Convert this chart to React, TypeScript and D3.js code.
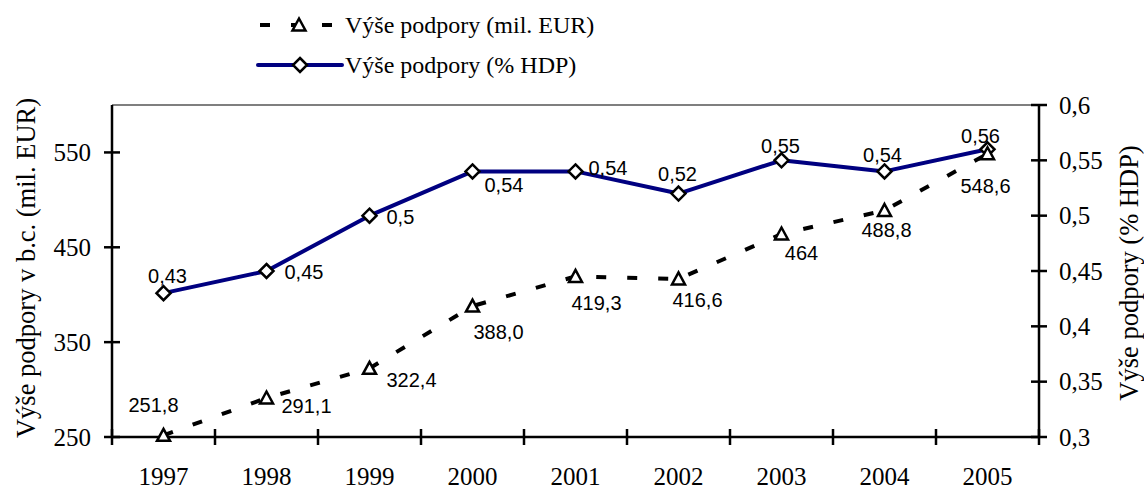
import React from 'react';
import * as d3 from 'd3';

const years = ['1997', '1998', '1999', '2000', '2001', '2002', '2003', '2004', '2005'];
const eurValues = [251.8, 291.1, 322.4, 388.0, 419.3, 416.6, 464, 488.8, 548.6];
const eurLabels = ['251,8', '291,1', '322,4', '388,0', '419,3', '416,6', '464', '488,8', '548,6'];
const hdpValues = [0.43, 0.45, 0.5, 0.54, 0.54, 0.52, 0.55, 0.54, 0.56];
const hdpLabels = ['0,43', '0,45', '0,5', '0,54', '0,54', '0,52', '0,55', '0,54', '0,56'];
const leftTicks = [250, 350, 450, 550];
const rightTicks = [0.3, 0.35, 0.4, 0.45, 0.5, 0.55, 0.6];

// label offsets (dx, dy, anchor) relative to each point, like Excel's hand-placed labels
const eurLabelPos: [number, number, string][] = [
  [-10, -30, 'middle'], [15, 8, 'start'], [17, 12, 'start'], [26, 26, 'middle'], [21, 27, 'middle'],
  [19, 21, 'middle'], [20, 19, 'middle'], [2, 20, 'middle'], [-2, 32, 'middle'],
];
const hdpLabelPos: [number, number, string][] = [
  [4, -17, 'middle'], [18, 1, 'start'], [17, 1, 'start'], [12, 14, 'start'], [13, -3, 'start'],
  [-1, -20, 'middle'], [-1, -14, 'middle'], [-2, -16, 'middle'], [-7, -13, 'middle'],
];

const W = 1144;
const H = 488;
const plot = { left: 112, right: 1039, top: 105, bottom: 437 };
const serif = '"Liberation Serif", "Times New Roman", serif';
const sans = '"Liberation Sans", Arial, sans-serif';

export default function App() {
  const x = d3.scaleBand().domain(years).range([plot.left, plot.right]);
  const yL = d3.scaleLinear().domain([250, 600]).range([plot.bottom, plot.top]);
  const yR = d3.scaleLinear().domain([0.3, 0.6]).range([plot.bottom, plot.top]);
  const cx = (i: number) => (x(years[i]) as number) + x.bandwidth() / 2;

  const eurLine = d3.line<number>().x((_, i) => cx(i)).y((d) => yL(d))(eurValues) as string;
  const hdpLine = d3.line<number>().x((_, i) => cx(i)).y((d) => yR(d))(hdpValues) as string;

  const tri = (px: number, py: number) =>
    `M${px},${py - 6.5}L${px + 6.5},${py + 5.5}L${px - 6.5},${py + 5.5}Z`;
  const dia = (px: number, py: number) =>
    `M${px},${py - 7}L${px + 7},${py}L${px},${py + 7}L${px - 7},${py}Z`;

  const xTicks = d3.range(years.length + 1).map((i) => plot.left + i * x.bandwidth());

  return (
    <svg width={W} height={H} style={{ position: 'absolute', left: 0, top: 0, background: '#fff' }}>
      {/* legend */}
      <g>
        <line x1={260} x2={342} y1={25} y2={25} stroke="#000" strokeWidth={4} strokeDasharray="10 21" />
        <path d={tri(299, 25)} fill="#fff" stroke="#000" strokeWidth={2.5} />
        <text x={345} y={25} dominantBaseline="central" fontFamily={serif} fontSize={24}>Výše podpory (mil. EUR)</text>
        <line x1={258} x2={342} y1={65} y2={65} stroke="#000080" strokeWidth={4} strokeLinecap="round" />
        <path d={dia(300, 65)} fill="#fff" stroke="#000" strokeWidth={2.5} />
        <text x={345} y={65} dominantBaseline="central" fontFamily={serif} fontSize={24}>Výše podpory (% HDP)</text>
      </g>

      {/* plot frame */}
      <line x1={plot.left} x2={plot.right} y1={plot.top} y2={plot.top} stroke="#000" strokeWidth={1.2} />
      <line x1={plot.left} x2={plot.left} y1={plot.top} y2={plot.bottom} stroke="#000" strokeWidth={2.5} />
      <line x1={plot.right} x2={plot.right} y1={plot.top} y2={plot.bottom} stroke="#000" strokeWidth={2.5} />
      <line x1={plot.left} x2={plot.right} y1={plot.bottom} y2={plot.bottom} stroke="#000" strokeWidth={2.5} />

      {/* left axis */}
      {leftTicks.map((t) => (
        <g key={'l' + t}>
          <line x1={plot.left - 8} x2={plot.left + 8} y1={yL(t)} y2={yL(t)} stroke="#000" strokeWidth={2.5} />
          <text x={91} y={yL(t)} textAnchor="end" dominantBaseline="central" fontFamily={serif} fontSize={25}>{t}</text>
        </g>
      ))}
      {/* right axis */}
      {rightTicks.map((t) => (
        <g key={'r' + t}>
          <line x1={plot.right - 8} x2={plot.right + 8} y1={yR(t)} y2={yR(t)} stroke="#000" strokeWidth={2.5} />
          <text x={1059} y={yR(t)} dominantBaseline="central" fontFamily={serif} fontSize={25}>
            {d3.format('.2~f')(t).replace('.', ',')}
          </text>
        </g>
      ))}
      {/* x axis */}
      {xTicks.map((tx, i) => (
        <line key={'x' + i} x1={tx} x2={tx} y1={plot.bottom - 8} y2={plot.bottom + 8} stroke="#000" strokeWidth={2.5} />
      ))}
      {years.map((yr, i) => (
        <text key={yr} x={cx(i)} y={476} textAnchor="middle" dominantBaseline="central" fontFamily={serif} fontSize={25}>{yr}</text>
      ))}

      {/* axis titles */}
      <text transform={`translate(26,268) rotate(-90)`} textAnchor="middle" dominantBaseline="central" fontFamily={serif} fontSize={26.5}>
        Výše podpory v b.c. (mil.  EUR)
      </text>
      <text transform={`translate(1129,273) rotate(-90)`} textAnchor="middle" dominantBaseline="central" fontFamily={serif} fontSize={26.5}>
        Výše podpory (% HDP)
      </text>

      {/* series */}
      <path d={hdpLine} fill="none" stroke="#000080" strokeWidth={4} strokeLinejoin="round" />
      <path d={eurLine} fill="none" stroke="#000" strokeWidth={4} strokeDasharray="10 21" />
      {hdpValues.map((v, i) => (
        <path key={'d' + i} d={dia(cx(i), yR(v))} fill="#fff" stroke="#000" strokeWidth={2.5} />
      ))}
      {eurValues.map((v, i) => (
        <path key={'t' + i} d={tri(cx(i), yL(v))} fill="#fff" stroke="#000" strokeWidth={2.5} />
      ))}

      {/* data labels */}
      {hdpValues.map((v, i) => (
        <text key={'hl' + i} x={cx(i) + hdpLabelPos[i][0]} y={yR(v) + hdpLabelPos[i][1]} textAnchor={hdpLabelPos[i][2]}
          dominantBaseline="central" fontFamily={sans} fontSize={20}>{hdpLabels[i]}</text>
      ))}
      {eurValues.map((v, i) => (
        <text key={'el' + i} x={cx(i) + eurLabelPos[i][0]} y={yL(v) + eurLabelPos[i][1]} textAnchor={eurLabelPos[i][2]}
          dominantBaseline="central" fontFamily={sans} fontSize={20}>{eurLabels[i]}</text>
      ))}
    </svg>
  );
}
